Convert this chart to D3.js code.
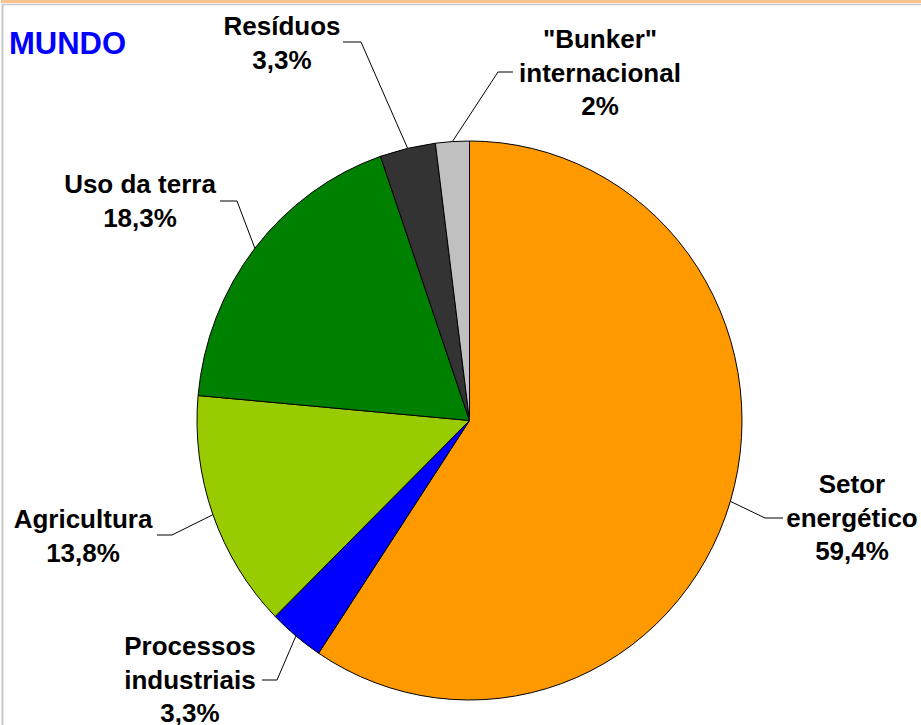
<!DOCTYPE html>
<html>
<head>
<meta charset="utf-8">
<script src="https://cdn.jsdelivr.net/npm/d3@7"></script>
<style>
  html, body { margin: 0; padding: 0; background: #fff; }
  svg { display: block; }
</style>
</head>
<body>
<div id="chart"></div>
<script>
// slices, clockwise from 12 o'clock
const categories = ["Setor energético", "Processos industriais", "Agricultura", "Uso da terra", "Resíduos", "\"Bunker\" internacional"];
const values = [59.4, 3.3, 13.8, 18.3, 3.3, 2];
const valueLabels = ["59,4%", "3,3%", "13,8%", "18,3%", "3,3%", "2%"];
const labelLines = [["Setor", "energético"], ["Processos", "industriais"], ["Agricultura"], ["Uso da terra"], ["Resíduos"], ["\"Bunker\"", "internacional"]];
const colors = ["#FF9900", "#0000FF", "#99CC00", "#008000", "#333333", "#C0C0C0"];

// where excel put each label block (center x, first baseline) and the leader elbow
const labelLayout = [
  { x: 852, y: 493, elbow: [765, 518], end: 783 },
  { x: 190, y: 655, elbow: [277, 680], end: 262 },
  { x: 83,  y: 528, elbow: [172, 535], end: 157 },
  { x: 140, y: 193, elbow: [237, 201], end: 220 },
  { x: 282, y: 35,  elbow: [361, 42],  end: 343 },
  { x: 600, y: 48,  elbow: [498, 72],  end: 513 }
];

const width = 921, height = 725;
const cx = 469.5, cy = 420.5, rx = 272.5, ry = 279.5;

const svg = d3.select("#chart").append("svg")
  .attr("width", width)
  .attr("height", height)
  .style("font-family", "'Liberation Sans', Arial, sans-serif");

// frame bits
svg.append("rect").attr("x", 1).attr("y", 0).attr("width", width - 1).attr("height", 3).attr("fill", "#FAC28E");
svg.append("line").attr("x1", 2).attr("x2", width).attr("y1", 4.5).attr("y2", 4.5).attr("stroke", "#C8C8C8").attr("stroke-width", 1.5);
svg.append("line").attr("x1", 2.5).attr("x2", 2.5).attr("y1", 4).attr("y2", height).attr("stroke", "#C8C8C8").attr("stroke-width", 2);

svg.append("text")
  .attr("x", 9)
  .attr("y", 54)
  .attr("fill", "#0000FF")
  .attr("font-weight", "bold")
  .attr("font-size", 31)
  .text("MUNDO");

const data = categories.map((c, i) => ({ name: c, value: values[i], color: colors[i], i: i }));

const pie = d3.pie().sort(null).value(d => d.value);
const arcs = pie(data);
const arc = d3.arc().innerRadius(0).outerRadius(rx);

const g = svg.append("g")
  .attr("transform", `translate(${cx},${cy}) scale(1,${ry / rx})`);

g.selectAll("path")
  .data(arcs)
  .enter()
  .append("path")
  .attr("d", arc)
  .attr("fill", d => d.data.color)
  .attr("stroke", "#000")
  .attr("stroke-width", 1)
  .attr("vector-effect", "non-scaling-stroke");

// leader lines: slice mid angle on the rim -> elbow -> short horizontal
arcs.forEach(function(a, i) {
  const mid = (a.startAngle + a.endAngle) / 2;
  const px = cx + Math.sin(mid) * rx;
  const py = cy - Math.cos(mid) * ry;
  const L = labelLayout[i];
  svg.append("polyline")
    .attr("points", `${px},${py} ${L.elbow[0]},${L.elbow[1]} ${L.end},${L.elbow[1]}`)
    .attr("fill", "none")
    .attr("stroke", "#000")
    .attr("stroke-width", 1);
});

// labels
data.forEach(function(d, i) {
  const L = labelLayout[i];
  const lines = labelLines[i].concat([valueLabels[i]]);
  const t = svg.append("text")
    .attr("text-anchor", "middle")
    .attr("font-weight", "bold")
    .attr("font-size", 26)
    .attr("fill", "#000");
  lines.forEach(function(s, k) {
    t.append("tspan")
      .attr("x", L.x)
      .attr("y", L.y + k * 33.5)
      .text(s);
  });
});
</script>
</body>
</html>
